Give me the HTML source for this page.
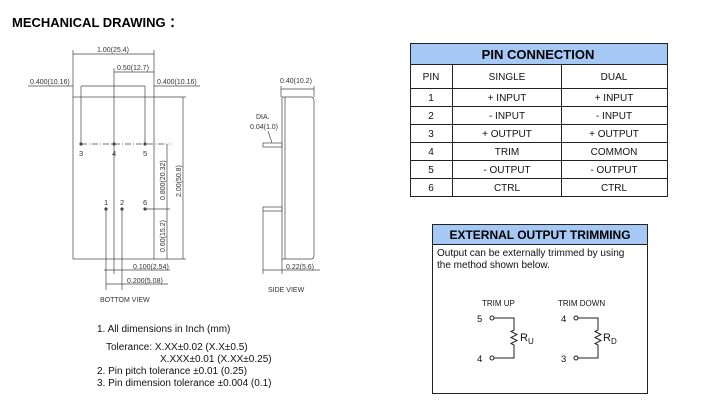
<!DOCTYPE html>
<html><head><style>
body{margin:0;background:#fff;width:724px;height:411px;overflow:hidden;font-family:"Liberation Sans",sans-serif;}
svg{position:absolute;left:0;top:0}
</style></head><body>
<svg width="724" height="411" viewBox="0 0 724 411" font-family="Liberation Sans, sans-serif">
<text x="12" y="27" font-size="13" font-weight="bold">MECHANICAL DRAWING ：</text>
<g stroke="#444" stroke-width="0.7" fill="none">
<rect x="73" y="97" width="81" height="162"/>
<line x1="73" y1="50" x2="73" y2="97"/><line x1="154" y1="50" x2="154" y2="97"/>
<line x1="73" y1="54" x2="154" y2="54"/>
<line x1="114" y1="68" x2="114" y2="144"/>
<line x1="114" y1="72" x2="154" y2="72"/>
<line x1="28" y1="86" x2="73" y2="86"/><line x1="154" y1="86" x2="200" y2="86"/>
<line x1="81" y1="86" x2="145" y2="86"/>
<line x1="81" y1="86" x2="81" y2="144"/><line x1="145" y1="86" x2="145" y2="144"/>
<line x1="81" y1="144" x2="170" y2="144" stroke-dasharray="6,2,1,2"/>
<line x1="114" y1="144" x2="114" y2="235"/>
<line x1="145" y1="209" x2="170" y2="209"/>
<line x1="106" y1="209" x2="106" y2="290"/><line x1="122" y1="209" x2="122" y2="290"/>
<line x1="114" y1="235" x2="114" y2="274"/>
<line x1="154" y1="97" x2="186" y2="97"/><line x1="154" y1="259" x2="186" y2="259"/>
<line x1="167" y1="144" x2="167" y2="259"/>
<line x1="183" y1="97" x2="183" y2="259"/>
<line x1="104" y1="270" x2="170" y2="270"/>
<line x1="106" y1="284" x2="168" y2="284"/>
</g>
<g fill="#444">
<circle cx="81" cy="144" r="1.6"/><circle cx="114" cy="144" r="1.6"/><circle cx="145" cy="144" r="1.6"/>
<circle cx="106" cy="209" r="1.6"/><circle cx="122" cy="209" r="1.6"/><circle cx="145" cy="209" r="1.6"/>
</g>
<g font-size="7" fill="#333">
<text x="97" y="52">1.00(25.4)</text>
<text x="117" y="70">0.50(12.7)</text>
<text x="30" y="84">0.400(10.16)</text>
<text x="157" y="84">0.400(10.16)</text>
<text x="79" y="156" font-size="7.5">3</text><text x="112" y="156" font-size="7.5">4</text><text x="143" y="156" font-size="7.5">5</text>
<text x="104" y="205" font-size="7.5">1</text><text x="120" y="205" font-size="7.5">2</text><text x="143" y="205" font-size="7.5">6</text>
<text transform="translate(165,200) rotate(-90)">0.800(20.32)</text>
<text transform="translate(165,252) rotate(-90)">0.60(15.2)</text>
<text transform="translate(181,197) rotate(-90)">2.00(50.8)</text>
<text x="133" y="269">0.100(2.54)</text>
<text x="127" y="283">0.200(5.08)</text>
<text x="100" y="302">BOTTOM VIEW</text>
<text x="268" y="292">SIDE VIEW</text>
<text x="280" y="83">0.40(10.2)</text>
<text x="256" y="119">DIA.</text>
<text x="250" y="129">0.04(1.0)</text>
<text x="286" y="269">0.22(5.6)</text>
</g>
<g stroke="#444" stroke-width="0.7" fill="none">
<path d="M282 97 H311 Q314 97 314 101 V255 Q314 259 311 259 H282 Z"/>
<line x1="285" y1="97" x2="285" y2="259"/>
<rect x="263" y="143" width="19" height="4"/>
<rect x="263" y="207" width="19" height="4"/>
<line x1="281" y1="86" x2="281" y2="97"/><line x1="314" y1="86" x2="314" y2="97"/>
<line x1="281" y1="89" x2="314" y2="89"/>
<line x1="268" y1="131" x2="272" y2="143"/>
<line x1="263" y1="211" x2="263" y2="274"/><line x1="282" y1="259" x2="282" y2="274"/>
<line x1="263" y1="270" x2="320" y2="270"/>
</g>
<g font-size="10" fill="#111">
<text x="97" y="332">1. All dimensions in Inch (mm)</text>
<text x="106" y="350">Tolerance: X.XX±0.02 (X.X±0.5)</text>
<text x="160" y="362">X.XXX±0.01 (X.XX±0.25)</text>
<text x="97" y="374">2. Pin pitch tolerance ±0.01 (0.25)</text>
<text x="97" y="386">3. Pin dimension tolerance ±0.004 (0.1)</text>
</g>
<rect x="410" y="43" width="257" height="21" fill="#a5c8f5"/>
<g stroke="#222" stroke-width="1" fill="none">
<rect x="410.5" y="43.5" width="257" height="153"/>
<line x1="410" y1="64.5" x2="667" y2="64.5"/>
<line x1="410" y1="88.5" x2="667" y2="88.5"/>
<line x1="410" y1="106.5" x2="667" y2="106.5"/>
<line x1="410" y1="124.5" x2="667" y2="124.5"/>
<line x1="410" y1="142.5" x2="667" y2="142.5"/>
<line x1="410" y1="160.5" x2="667" y2="160.5"/>
<line x1="410" y1="178.5" x2="667" y2="178.5"/>
<line x1="452.5" y1="64" x2="452.5" y2="197"/>
<line x1="561.5" y1="64" x2="561.5" y2="197"/>
</g>
<text x="538" y="59" font-size="13" font-weight="bold" text-anchor="middle">PIN CONNECTION</text>
<g font-size="10" text-anchor="middle" fill="#111">
<text x="431" y="80">PIN</text><text x="507" y="80">SINGLE</text><text x="614" y="80">DUAL</text>
<text x="431" y="101">1</text><text x="507" y="101">+ INPUT</text><text x="614" y="101">+ INPUT</text>
<text x="431" y="119">2</text><text x="507" y="119">- INPUT</text><text x="614" y="119">- INPUT</text>
<text x="431" y="137">3</text><text x="507" y="137">+ OUTPUT</text><text x="614" y="137">+ OUTPUT</text>
<text x="431" y="155">4</text><text x="507" y="155">TRIM</text><text x="614" y="155">COMMON</text>
<text x="431" y="173">5</text><text x="507" y="173">- OUTPUT</text><text x="614" y="173">- OUTPUT</text>
<text x="431" y="191">6</text><text x="507" y="191">CTRL</text><text x="614" y="191">CTRL</text>
</g>
<rect x="432" y="224" width="216" height="20" fill="#a5c8f5"/>
<g stroke="#222" stroke-width="1" fill="none">
<rect x="432.5" y="224.5" width="215" height="169"/>
<line x1="432" y1="244.5" x2="648" y2="244.5"/>
</g>
<text x="540" y="239" font-size="12" font-weight="bold" text-anchor="middle">EXTERNAL OUTPUT TRIMMING</text>
<g font-size="10" fill="#111">
<text x="437" y="256">Output can be externally trimmed by using</text>
<text x="437" y="268">the method shown below.</text>
</g>
<g font-size="8" fill="#111">
<text x="482" y="306">TRIM UP</text><text x="558" y="306">TRIM DOWN</text>
</g>
<g font-size="9.5" fill="#111">
<text x="477" y="322">5</text><text x="477" y="362">4</text>
<text x="561" y="322">4</text><text x="561" y="362">3</text>
<text x="520" y="341" font-size="11">R<tspan font-size="8" dy="3">U</tspan></text>
<text x="603" y="341" font-size="11">R<tspan font-size="8" dy="3">D</tspan></text>
</g>
<g stroke="#222" stroke-width="1" fill="none">
<circle cx="492" cy="318" r="2"/><circle cx="492" cy="358" r="2"/>
<path d="M494 318 H514 V330 l-3 1.5 l6 3 l-6 3 l6 3 l-6 3 l3 1.5 V358 H494"/>
<circle cx="576" cy="318" r="2"/><circle cx="576" cy="358" r="2"/>
<path d="M578 318 H598 V330 l-3 1.5 l6 3 l-6 3 l6 3 l-6 3 l3 1.5 V358 H578"/>
</g>
</svg>
</body></html>
